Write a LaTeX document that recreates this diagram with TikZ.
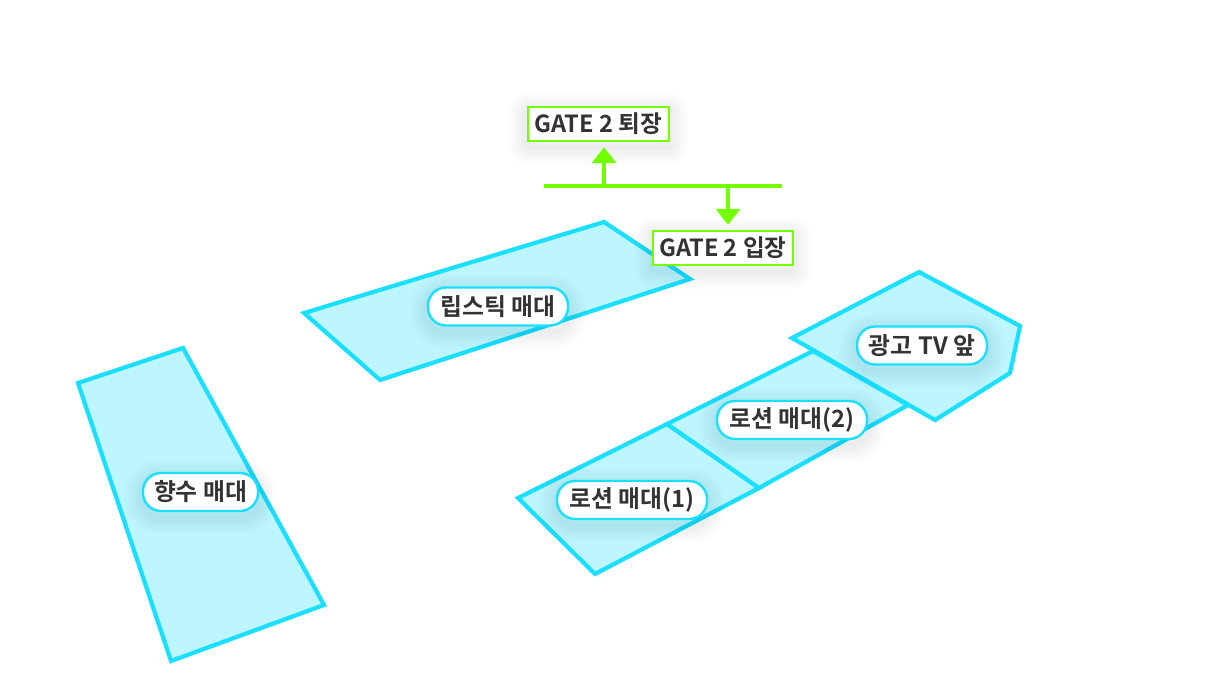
\documentclass[tikz,border=0pt]{standalone}
\usepackage{fontspec}
\setmainfont{Noto Sans CJK KR}[BoldFont={* Bold}]
\usetikzlibrary{arrows.meta,backgrounds}
\pgfdeclarelayer{poly}
\pgfdeclarelayer{shad}
\pgfsetlayers{poly,shad,main}
\definecolor{zone}{HTML}{1BDFFF}
\definecolor{zonefill}{HTML}{BDF6FF}
\definecolor{gate}{HTML}{72FF00}
\definecolor{ink}{HTML}{333333}
\tikzset{
  zonepoly/.style={draw=zone,fill=zonefill,line width=4.2pt,line join=miter},
  pill/.style={draw=zone,fill=white,line width=2.4pt,rounded corners=18pt,minimum height=38pt,
    inner sep=0pt,font=\fontsize{23.8}{26}\selectfont\bfseries,text=ink},
  gatebox/.style={draw=gate,fill=white,line width=2.4pt,minimum height=34pt,
    inner sep=0pt,font=\fontsize{23.6}{25}\selectfont\bfseries,text=ink},
  gateline/.style={draw=gate,line width=4pt},
  gatearrow/.style={gateline,-{Triangle[width=24pt,length=16pt]},shorten >=5pt}
}
\newcommand{\softshadow}[2]{%
  \begin{pgfonlayer}{shad}
    \foreach \w in {4,8,...,36}
      \draw[black,opacity=0.009,line width=\w pt,line join=round,rounded corners=#2]
        ([yshift=-5pt]#1.south west) rectangle ([yshift=-5pt]#1.north east);
  \end{pgfonlayer}}
\begin{document}
\begin{tikzpicture}[x=1pt,y=-1pt]
\useasboundingbox (0,0) rectangle (1210,680);
\begin{pgfonlayer}{poly}
  \fill[white] (0,0) rectangle (1210,680);
  \draw[zonepoly] (78,383) -- (183,348) -- (324,605) -- (171,661) -- cycle;
  \draw[zonepoly] (604,222) -- (690,279) -- (380,380) -- (304,313) -- cycle;
  \draw[zonepoly] (518,498) -- (667,424) -- (759,488) -- (595,574) -- cycle;
  \draw[zonepoly] (667,424) -- (813,351) -- (908,405) -- (759,488) -- cycle;
  \draw[zonepoly] (792,338) -- (919,272) -- (1020,326) -- (1010,373) -- (935,420) -- cycle;
\end{pgfonlayer}

\node[pill,minimum width=115pt] (perfume) at (200.5,492) {향수 매대};
\softshadow{perfume}{18pt}
\node[pill,minimum width=140pt] (lip) at (498,306.5) {립스틱 매대};
\softshadow{lip}{18pt}
\node[pill,minimum width=150pt] (lotiona) at (632,500) {로션 매대(1)};
\softshadow{lotiona}{18pt}
\node[pill,minimum width=150pt] (lotionb) at (792,420) {로션 매대(2)};
\softshadow{lotionb}{18pt}
\node[pill,minimum width=130pt] (tv) at (922,345.5) {광고 TV 앞};
\softshadow{tv}{18pt}

\node[gatebox,minimum width=141pt] (exit) at (598.5,124) {GATE 2 퇴장};
\softshadow{exit}{2pt}
\node[gatebox,minimum width=140pt] (enter) at (723,248) {GATE 2 입장};
\softshadow{enter}{2pt}

\coordinate (barl) at (544,186);
\coordinate (barr) at (782,186);
\coordinate (upf) at (604,186);
\coordinate (dnf) at (728,186);
\draw[gateline] (barl) -- (barr);
\draw[gatearrow] (upf) -- (upf |- exit.south);
\draw[gatearrow] (dnf) -- (dnf |- enter.north);
\end{tikzpicture}
\end{document}
